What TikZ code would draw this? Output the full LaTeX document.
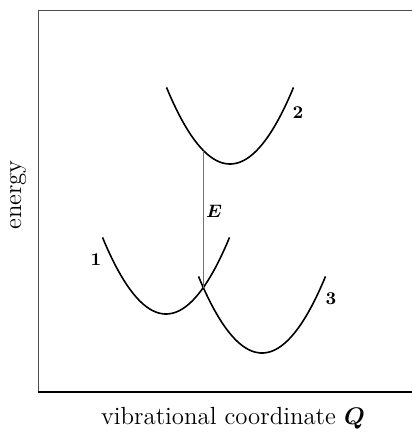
\documentclass[tikz,border=0pt]{standalone}
\usepackage{bm}
\usepackage{tikz}
\usetikzlibrary{positioning}

\begin{document}
\begin{tikzpicture}[
  x=0.5pt, y=-0.5pt,
  curve/.style={line width=0.8pt, black},
  frameline/.style={line width=0.4pt, black!70},
  axisline/.style={line width=0.9pt, black},
  eline/.style={line width=0.3pt, black!55},
  clabel/.style={font=\small\bfseries, inner sep=1pt},
  alabel/.style={font=\fontsize{12.4}{15}\selectfont, inner sep=0pt},
]
\useasboundingbox (0,0) rectangle (412,434);

% === Frame ===
\coordinate (tl) at (38,10);
\coordinate (tr) at (412,10);
\coordinate (bl) at (38,392);
\coordinate (br) at (412,392);
\draw[frameline] (tr) -- (tl) -- (bl);
\draw[axisline] (bl) -- (br);

% === Potential curves (vertex x / vertex y) ===
\foreach \vx/\vy in {166/314, 230/164, 262/353}{
  \draw[curve] plot[domain=-63.5:63.5, samples=60, smooth]
    ({\vx+\x},{\vy-0.019*\x*\x});
}

% === Curve labels ===
\node[clabel] (lab1) at (96,260) {1};
\node[clabel] (lab2) at (298,113) {2};
\node[clabel] (lab3) at (331,299) {3};

% === Vertical transition ===
\coordinate (upper) at (203.3,150.5);
\coordinate (cross) at (203.3,287.6);
\draw[eline] (upper) -- (cross);
\node[font=\small, inner sep=0pt] (elab) at (214,211) {$\bm{E}$};

% === Axis labels ===
\node[alabel, rotate=90] (ylab) at (18,195) {energy};
\node[alabel] (xlab) at (233,418) {vibrational coordinate $\bm{Q}$};

\end{tikzpicture}
\end{document}
